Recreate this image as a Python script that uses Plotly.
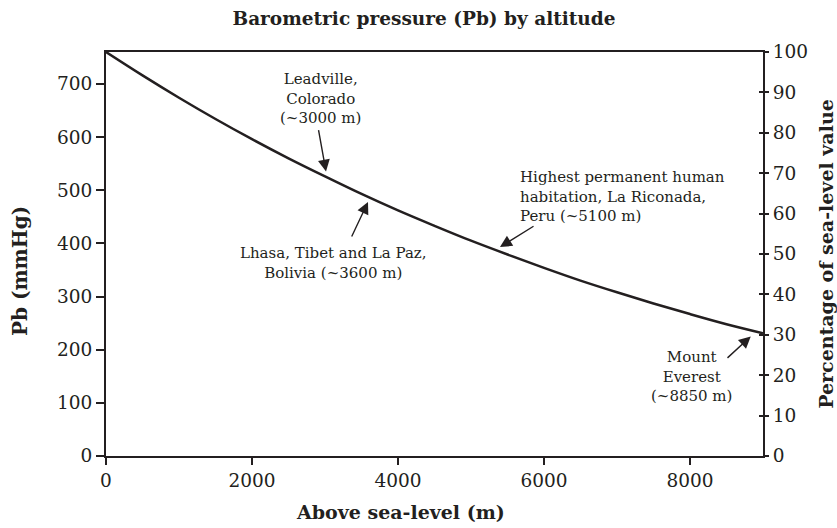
import plotly.graph_objects as go

# Barometric pressure against altitude (standard atmosphere, mmHg)
altitude_m = [0, 500, 1000, 1500, 2000, 2500, 3000, 3500, 4000, 4500,
              5000, 5500, 6000, 6500, 7000, 7500, 8000, 8500, 9000]
pressure_mmhg = [760, 716, 674, 634, 596, 560, 526, 493, 462, 433,
                 405, 379, 354, 330, 308, 287, 267, 248, 231]

left_ticks = [0, 100, 200, 300, 400, 500, 600, 700]
x_ticks = [0, 2000, 4000, 6000, 8000]
pct_ticks = [0, 10, 20, 30, 40, 50, 60, 70, 80, 90, 100]

INK = "#231f20"
SERIF = "DejaVu Serif"
W, H = 837, 528

fig = go.Figure()
fig.add_trace(go.Scatter(
    x=altitude_m, y=pressure_mmhg, mode="lines",
    line=dict(color=INK, width=2.5, shape="spline"),
    showlegend=False, hoverinfo="skip",
))
# invisible traces so the right-hand axes are drawn
fig.add_trace(go.Scatter(x=[0], y=[0], yaxis="y2", mode="markers",
                         marker=dict(opacity=0), showlegend=False, hoverinfo="skip"))
fig.add_trace(go.Scatter(x=[0], y=[0], yaxis="y3", mode="markers",
                         marker=dict(opacity=0), showlegend=False, hoverinfo="skip"))

tick_font = dict(family=SERIF, size=18.5, color=INK)
title_font = dict(family=SERIF, size=19, color=INK)

fig.update_layout(
    width=W, height=H,
    margin=dict(l=106, r=74, t=52, b=72),
    paper_bgcolor="white", plot_bgcolor="white",
    title=dict(text="<b>Barometric pressure (Pb) by altitude</b>",
               font=dict(family=SERIF, size=18.5, color=INK),
               x=424 / W, xref="container", xanchor="center",
               y=1 - 19 / H, yref="container", yanchor="middle"),
    xaxis=dict(range=[0, 9000], tickvals=x_ticks, ticks="outside", ticklen=7,
               tickwidth=1.5, tickcolor=INK, showline=True, linewidth=2,
               linecolor=INK, mirror=True, showgrid=False, zeroline=False,
               tickfont=tick_font, automargin=False),
    yaxis=dict(range=[0, 760], tickvals=left_ticks, ticks="outside", ticklen=8,
               tickwidth=1.5, tickcolor=INK, showline=True, linewidth=2,
               linecolor=INK, showgrid=False, zeroline=False, tickfont=tick_font,
               automargin=False),
    yaxis2=dict(range=[0, 100], tickvals=pct_ticks, overlaying="y", side="right",
                ticks="outside", ticklen=4, tickwidth=1.5, tickcolor=INK,
                showline=True, linewidth=2, linecolor=INK, showgrid=False,
                zeroline=False, tickfont=tick_font, automargin=False,
                title=dict(text="<b>Percentage of sea-level value</b>",
                           font=title_font, standoff=14)),
    yaxis3=dict(range=[0, 100], tickvals=pct_ticks, overlaying="y", side="right",
                ticks="inside", ticklen=4, tickwidth=1.5, tickcolor=INK,
                showline=False, showgrid=False, zeroline=False,
                showticklabels=False, automargin=False),
)

# axis titles placed on the page
fig.add_annotation(text="<b>Above sea-level (m)</b>", xref="paper", yref="paper",
                   x=(400 - 106) / (W - 106 - 74), y=-(512 - 456) / (456 - 52),
                   xanchor="center", yanchor="middle", showarrow=False,
                   font=title_font)
fig.add_annotation(text="<b>Pb (mmHg)</b>", xref="paper", yref="paper",
                   x=-(106 - 20) / (W - 106 - 74), y=(456 - 271) / (456 - 52),
                   xanchor="center", yanchor="middle", showarrow=False,
                   textangle=-90, font=dict(family=SERIF, size=20, color=INK))

note_font = dict(family=SERIF, size=15, color=INK)

# site labels: text, x, y, alignment
labels = [
    ("Leadville,<br>Colorado<br>(~3000 m)", 2932, 673, "center"),
    ("Lhasa, Tibet and La Paz,<br>Bolivia (~3600 m)", 3123, 364, "center"),
    ("Highest permanent human<br>habitation, La Riconada,<br>Peru (~5100 m)", 5650, 489, "left"),
    ("Mount<br>Everest<br>(~8850 m)", 8027, 149, "center"),
]
for text, x, y, align in labels:
    fig.add_annotation(x=x, y=y, xref="x", yref="y", text=text, showarrow=False,
                       font=note_font, align=align,
                       xanchor="left" if align == "left" else "center",
                       yanchor="middle")

# arrows: tip x, tip y, tail x, tail y
arrows = [
    (3014, 535, 2908, 616),
    (3589, 478, 3356, 410),
    (5397, 393, 5877, 434),
    (8832, 225, 8493, 182),
]
for tx, ty, sx, sy in arrows:
    fig.add_annotation(x=tx, y=ty, ax=sx, ay=sy, xref="x", yref="y",
                       axref="x", ayref="y", text="", showarrow=True,
                       arrowhead=2, arrowsize=1.7, arrowwidth=1.4,
                       arrowcolor=INK, standoff=0)

fig.write_html("out.html")
